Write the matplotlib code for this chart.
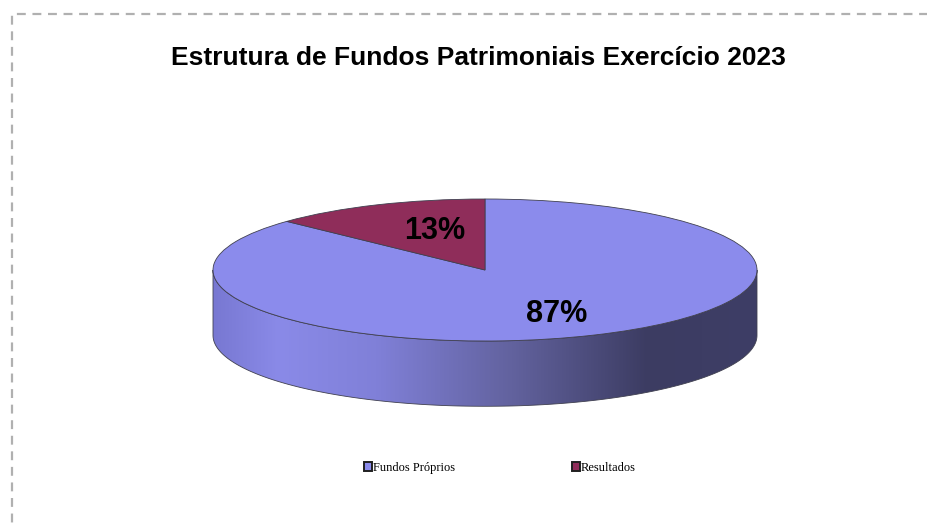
import numpy as np
import matplotlib
matplotlib.use('Agg')
import matplotlib.pyplot as plt
from matplotlib.colors import LinearSegmentedColormap
from matplotlib.patches import Polygon, Rectangle

# data
labels = ['Fundos Próprios', 'Resultados']
values = [87, 13]
colors = ['#8b8bec', '#8f2d5a']
title = 'Estrutura de Fundos Patrimoniais Exercício 2023'

W, H = 928, 523
fig = plt.figure(figsize=(W / 100, H / 100), dpi=100)

# dashed frame around the chart area (runs off right/bottom edge)
fig.patches.append(Rectangle((12 / W, -0.1), 1.2, (H - 14) / H + 0.1,
                             transform=fig.transFigure, fill=False,
                             edgecolor='#b0b0b0', lw=1.6, ls=(0, (4, 3))))

fig.text(478 / W, 1 - 58 / H, title, ha='center', va='center',
         fontsize=19, fontweight='bold', family='Liberation Sans')

# pie axes: x in [-1, 1] -> 272px radius, y unit -> 71px
rx, ry, depth = 272, 71, 0.92
cx, top = 485, 199
ax = fig.add_axes([(cx - rx) / W, (H - top - 3 * ry) / H, 2 * rx / W, 3 * ry / H])

wedges, texts, autotexts = ax.pie(values, colors=colors, startangle=90, counterclock=False,
                                  autopct='%1.0f%%', pctdistance=0.65,
                                  wedgeprops=dict(edgecolor='#404050', linewidth=0.6),
                                  textprops=dict(fontsize=22, fontweight='bold',
                                                 family='Liberation Sans', color='black'))
ax.set_aspect('auto')
ax.axis('off')
for w in wedges:
    w.set_zorder(3)
    w.set_clip_on(False)
for t in autotexts:
    t.set_zorder(4)

# label tweaks (distance from centre per slice, x/y)
label_r = [(0.66, 0.68), (0.47, 0.6)]
for w, t, (r_x, r_y) in zip(wedges, autotexts, label_r):
    mid = np.deg2rad((w.theta1 + w.theta2) / 2)
    t.set_position((r_x * np.cos(mid), r_y * np.sin(mid)))

# side wall of the front half with a left-to-right shade
t = np.linspace(np.pi, 2 * np.pi, 200)
upper = np.column_stack([np.cos(t), np.sin(t)])
lower = np.column_stack([np.cos(t[::-1]), np.sin(t[::-1]) - depth])
side = Polygon(np.vstack([upper, lower]), closed=True, facecolor='none',
               edgecolor='#404050', lw=0.6, zorder=2, clip_on=False)
ax.add_patch(side)
shade = LinearSegmentedColormap.from_list('side', [
    (0.0, '#7878d2'), (0.12, '#8a8ae8'), (0.3, '#8080d8'),
    (0.55, '#62629e'), (0.8, '#3c3c62'), (1.0, '#3e3e66')])
grad = np.linspace(0, 1, 256)[None, :]
im = ax.imshow(grad, cmap=shade, extent=(-1, 1, -1 - depth, 0), aspect='auto',
               zorder=1, interpolation='bilinear')
im.set_clip_path(side)
ax.set_xlim(-1, 1)
ax.set_ylim(-2, 1)

# legend
handles = [Rectangle((0, 0), 1, 1, facecolor=c, edgecolor='#202020', lw=1.4) for c in colors]
leg = fig.legend(handles, labels, loc='center', bbox_to_anchor=(500 / W, 1 - 468 / H),
                 ncol=2, frameon=False, columnspacing=9.3, handlelength=0.65,
                 handleheight=0.65, handletextpad=0.1,
                 prop=dict(family='Liberation Serif', size=9))

fig.savefig('out.png', dpi=100)
